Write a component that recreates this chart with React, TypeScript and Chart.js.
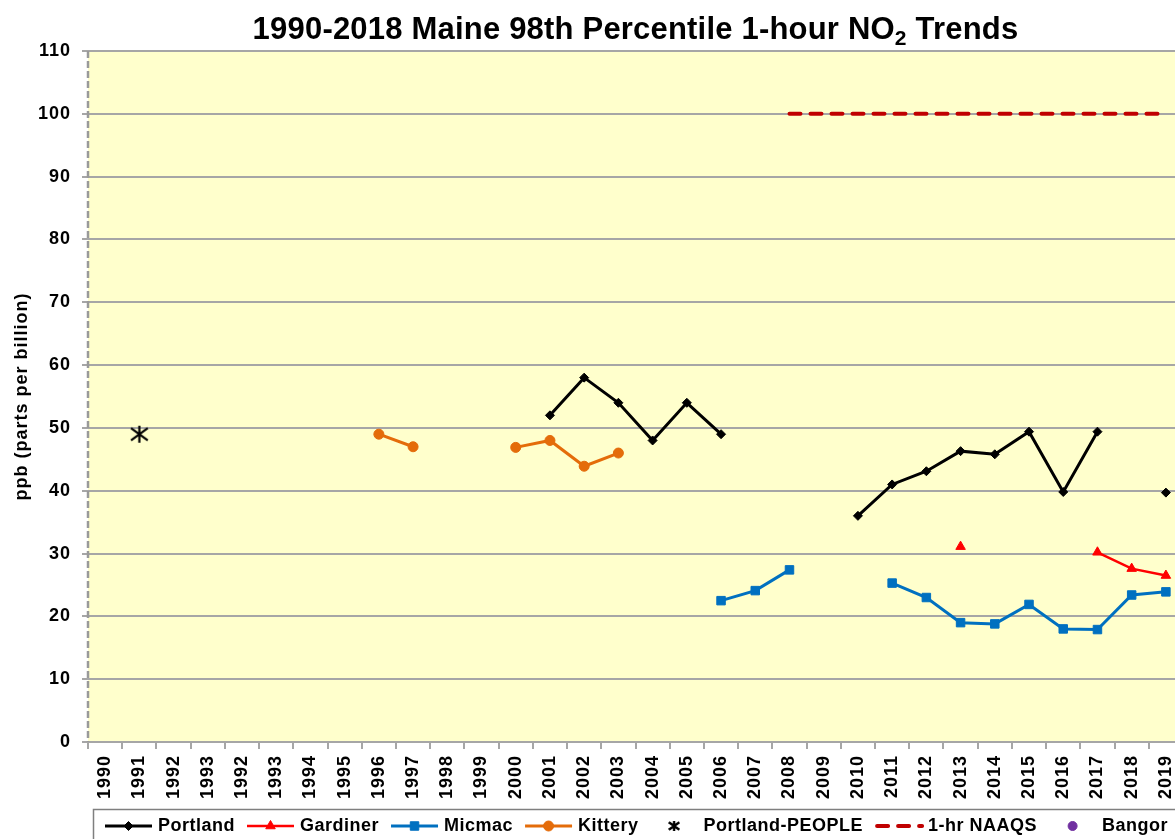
import React, { useEffect, useRef } from "react";
import { Chart, registerables } from "chart.js";

Chart.register(...registerables);

// ---- Data ----
const years = [
  "1990", "1991", "1992", "1993", "1992", "1993", "1994", "1995", "1996", "1997",
  "1998", "1999", "2000", "2001", "2002", "2003", "2004", "2005", "2006", "2007",
  "2008", "2009", "2010", "2011", "2012", "2013", "2014", "2015", "2016", "2017",
  "2018", "2019",
];
const N = null;
const portland = [N, N, N, N, N, N, N, N, N, N, N, N, N, 52, 58, 54, 48, 54, 49, N, N, N, 36, 41, 43.1, 46.3, 45.8, 49.4, 39.8, 49.4, N, 39.7];
const gardiner = [N, N, N, N, N, N, N, N, N, N, N, N, N, N, N, N, N, N, N, N, N, N, N, N, N, 31.1, N, N, N, 30.2, 27.6, 26.5];
const micmac = [N, N, N, N, N, N, N, N, N, N, N, N, N, N, N, N, N, N, 22.5, 24.1, 27.4, N, N, 25.3, 23.0, 19.0, 18.8, 21.9, 18.0, 17.9, 23.4, 23.9];
const kittery = [N, N, N, N, N, N, N, N, 49, 47, N, N, 46.9, 48.0, 43.9, 46.0, N, N, N, N, N, N, N, N, N, N, N, N, N, N, N, N];
const portlandPeople = [N, 49, N, N, N, N, N, N, N, N, N, N, N, N, N, N, N, N, N, N, N, N, N, N, N, N, N, N, N, N, N, N];
const naaqs = [N, N, N, N, N, N, N, N, N, N, N, N, N, N, N, N, N, N, N, N, 100, 100, 100, 100, 100, 100, 100, 100, 100, 100, 100, 100];
const bangor = years.map(() => null);

const yTicks = [0, 10, 20, 30, 40, 50, 60, 70, 80, 90, 100, 110];
const titleParts = ["1990-2018 Maine 98th Percentile 1-hour NO", "2", " Trends"];
const yTitle = "ppb (parts per billion)";

const FONT = '"Liberation Sans", Arial, sans-serif';
const GRID = "#A6A6A6";

function makeAsterisk(size: number, lw: number) {
  const c = document.createElement("canvas");
  c.width = size;
  c.height = size;
  const g = c.getContext("2d")!;
  g.strokeStyle = "#000";
  g.lineWidth = lw;
  g.lineCap = "butt";
  const m = size / 2;
  const d = size * 0.44;
  g.beginPath();
  g.moveTo(m - d, m - d * 0.72);
  g.lineTo(m + d, m + d * 0.72);
  g.moveTo(m + d, m - d * 0.72);
  g.lineTo(m - d, m + d * 0.72);
  g.moveTo(m, 1);
  g.lineTo(m, size - 1);
  g.stroke();
  return c;
}

export default function App() {
  const ref = useRef<HTMLCanvasElement>(null);

  useEffect(() => {
    const canvas = ref.current!;
    const star = makeAsterisk(19, 2.2);
    const starSmall = makeAsterisk(12, 2.4);

    const setSpacing = (chart: any) => {
      (chart.ctx as any).letterSpacing = "1px";
    };

    const decor = {
      id: "decor",
      beforeUpdate: setSpacing,
      beforeLayout: setSpacing,
      beforeDraw(chart: any) {
        setSpacing(chart);
        const { ctx, chartArea: a } = chart;
        ctx.save();
        ctx.fillStyle = "#FFFFCC";
        ctx.fillRect(a.left, a.top, a.right - a.left, a.bottom - a.top);
        ctx.restore();
      },
      beforeDatasetsDraw(chart: any) {
        // dashed vertical axis line
        const { ctx, chartArea: a } = chart;
        ctx.save();
        ctx.strokeStyle = "#9A9A9A";
        ctx.lineWidth = 2.5;
        ctx.setLineDash([7, 3]);
        ctx.beginPath();
        ctx.moveTo(a.left, a.top);
        ctx.lineTo(a.left, a.bottom);
        ctx.stroke();
        ctx.restore();
      },
      afterDraw(chart: any) {
        const { ctx, chartArea: a } = chart;
        // Title with subscript
        ctx.save();
        (ctx as any).letterSpacing = "0.2px";
        ctx.fillStyle = "#000";
        ctx.textBaseline = "alphabetic";
        ctx.textAlign = "left";
        const big = `bold 31px ${FONT}`;
        const small = `bold 21px ${FONT}`;
        ctx.font = big;
        const w1 = ctx.measureText(titleParts[0]).width;
        const w3 = ctx.measureText(titleParts[2]).width;
        ctx.font = small;
        const w2 = ctx.measureText(titleParts[1]).width;
        let x = (a.left + a.right) / 2 - (w1 + w2 + w3) / 2;
        const base = 38.5;
        ctx.font = big;
        ctx.fillText(titleParts[0], x, base);
        x += w1;
        ctx.font = small;
        ctx.fillText(titleParts[1], x, base + 6);
        x += w2;
        ctx.font = big;
        ctx.fillText(titleParts[2], x, base);
        ctx.restore();

        // Legend
        ctx.save();
        (ctx as any).letterSpacing = "0.5px";
        ctx.strokeStyle = "#7F7F7F";
        ctx.lineWidth = 1.5;
        ctx.strokeRect(93.5, 809.5, chart.width, 80);
        const ly = 826;
        let lx = 105;
        ctx.font = `bold 18px ${FONT}`;
        ctx.textBaseline = "middle";
        ctx.textAlign = "left";
        const sw = 47;
        chart.data.datasets.forEach((ds: any) => {
          const cx = lx + sw / 2;
          if (ds.showLine !== false) {
            ctx.save();
            ctx.strokeStyle = ds.borderColor;
            ctx.lineWidth = Math.min(ds.borderWidth, 4);
            if (ds.borderDash) {
              ctx.setLineDash(ds.borderDash);
              ctx.lineCap = "round";
            }
            ctx.beginPath();
            ctx.moveTo(lx + (ds.borderDash ? 2 : 0), ly);
            ctx.lineTo(lx + sw, ly);
            ctx.stroke();
            ctx.restore();
          }
          if (ds.pointRadius > 0) {
            ctx.save();
            if (ds.pointStyle instanceof HTMLCanvasElement) {
              ctx.drawImage(starSmall, cx - 6, ly - 6);
            } else {
              ctx.fillStyle = ds.pointBackgroundColor;
              ctx.strokeStyle = ds.pointBorderColor;
              ctx.lineWidth = 1;
              const r = ds.pointRadius;
              ctx.beginPath();
              if (ds.pointStyle === "rectRot") {
                ctx.moveTo(cx, ly - r);
                ctx.lineTo(cx + r, ly);
                ctx.lineTo(cx, ly + r);
                ctx.lineTo(cx - r, ly);
                ctx.closePath();
              } else if (ds.pointStyle === "rect") {
                const s = r * Math.SQRT1_2;
                ctx.rect(cx - s, ly - s, 2 * s, 2 * s);
              } else if (ds.pointStyle === "triangle") {
                ctx.moveTo(cx, ly - r);
                ctx.lineTo(cx + r * 0.866, ly + r * 0.5);
                ctx.lineTo(cx - r * 0.866, ly + r * 0.5);
                ctx.closePath();
              } else {
                ctx.arc(cx, ly, r, 0, Math.PI * 2);
              }
              ctx.fill();
              ctx.stroke();
            }
            ctx.restore();
          }
          ctx.fillStyle = "#000";
          ctx.fillText(ds.label, lx + sw + 6, ly);
          lx += sw + 6 + ctx.measureText(ds.label).width + 12;
        });
        ctx.restore();
      },
    };

    const chart = new Chart(canvas, {
      type: "line",
      data: {
        labels: years,
        datasets: [
          {
            label: "Portland",
            data: portland,
            borderColor: "#000000",
            backgroundColor: "#000000",
            borderWidth: 3,
            pointStyle: "rectRot",
            pointRadius: 4.5,
            pointBorderWidth: 1,
            pointBackgroundColor: "#000000",
            pointBorderColor: "#000000",
          },
          {
            label: "Gardiner",
            data: gardiner,
            borderColor: "#FF0000",
            backgroundColor: "#FF0000",
            borderWidth: 2.5,
            pointStyle: "triangle",
            pointRadius: 5.5,
            pointBorderWidth: 1,
            pointBackgroundColor: "#FF0000",
            pointBorderColor: "#FF0000",
          },
          {
            label: "Micmac",
            data: micmac,
            borderColor: "#0070C0",
            backgroundColor: "#0070C0",
            borderWidth: 3,
            pointStyle: "rect",
            pointRadius: 6,
            pointBorderWidth: 1,
            pointBackgroundColor: "#0070C0",
            pointBorderColor: "#0070C0",
          },
          {
            label: "Kittery",
            data: kittery,
            borderColor: "#E46C0A",
            backgroundColor: "#E46C0A",
            borderWidth: 3,
            pointStyle: "circle",
            pointRadius: 5,
            pointBorderWidth: 1,
            pointBackgroundColor: "#E46C0A",
            pointBorderColor: "#E46C0A",
          },
          {
            label: "Portland-PEOPLE",
            data: portlandPeople,
            borderColor: "#000000",
            backgroundColor: "#000000",
            showLine: false,
            pointStyle: star as any,
            pointRadius: 9,
          },
          {
            label: "1-hr NAAQS",
            data: naaqs,
            borderColor: "#C00000",
            backgroundColor: "#C00000",
            borderWidth: 4,
            borderDash: [11, 10],
            borderCapStyle: "round",
            pointRadius: 0,
          },
          {
            label: "Bangor",
            data: bangor,
            borderColor: "#7030A0",
            backgroundColor: "#7030A0",
            showLine: false,
            pointStyle: "circle",
            pointRadius: 4.5,
            pointBackgroundColor: "#7030A0",
            pointBorderColor: "#7030A0",
          },
        ] as any,
      },
      options: {
        responsive: false,
        animation: false,
        events: [],
        devicePixelRatio: 1,
        layout: { padding: { top: 51, left: 0, right: 17, bottom: 0 } },
        elements: { line: { tension: 0 } },
        plugins: {
          legend: { display: false },
          title: { display: false },
          tooltip: { enabled: false },
        },
        scales: {
          x: {
            type: "category",
            offset: true,
            afterFit(s: any) {
              s.height = 97;
            },
            grid: {
              offset: true,
              drawOnChartArea: false,
              drawTicks: true,
              tickLength: 7,
              color: GRID,
              lineWidth: 2,
            },
            border: { color: GRID, width: 2 },
            ticks: {
              autoSkip: false,
              maxRotation: 90,
              minRotation: 90,
              padding: 6,
              color: "#000",
              font: { family: FONT, size: 18, weight: "bold" },
            },
          },
          y: {
            min: 0,
            max: 110,
            afterFit(s: any) {
              s.width = 88;
            },
            afterBuildTicks(s: any) {
              s.ticks = yTicks.map((v) => ({ value: v }));
            },
            grid: {
              color: GRID,
              lineWidth: 2,
              tickLength: 6,
              drawTicks: true,
            },
            border: { display: false },
            ticks: {
              padding: 11,
              color: "#000",
              font: { family: FONT, size: 18, weight: "bold" },
            },
            title: {
              display: true,
              text: yTitle,
              color: "#000",
              padding: { top: 11, bottom: 0 },
              font: { family: FONT, size: 18, weight: "bold" },
            },
          },
        },
      } as any,
      plugins: [decor as any],
    });
    return () => chart.destroy();
  }, []);

  return (
    <div
      style={{
        position: "fixed",
        left: 0,
        top: 0,
        width: 1175,
        height: 839,
        overflow: "hidden",
        background: "#ffffff",
      }}
    >
      <canvas
        ref={ref}
        width={1200}
        height={839}
        style={{ display: "block", width: 1200, height: 839 }}
      />
    </div>
  );
}
